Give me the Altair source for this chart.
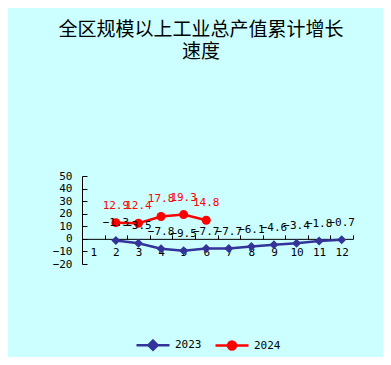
import altair as alt
import pandas as pd

title_lines = ["全区规模以上工业总产值累计增长", "速度"]
months = list(range(1, 13))
months_2023 = [2, 3, 4, 5, 6, 7, 8, 9, 10, 11, 12]
values_2023 = [-1.3, -3.5, -7.8, -9.5, -7.7, -7.7, -6.1, -4.6, -3.4, -1.8, -0.7]
months_2024 = [2, 3, 4, 5, 6]
values_2024 = [12.9, 12.4, 17.8, 19.3, 14.8]
series = ["2023", "2024"]
series_colors = ["#333399", "#FF0000"]
label_colors = ["#000000", "#FF0000"]
y_ticks = [50, 40, 30, 20, 10, 0, -10, -20]

df = pd.DataFrame({
    "month": months_2023 + months_2024,
    "value": values_2023 + values_2024,
    "year": [series[0]] * len(months_2023) + [series[1]] * len(months_2024),
})

W, H = 271, 88
y_min, y_max = -20, 50
zero_from_top = H * (y_max - 0) / (y_max - y_min)
zero_from_bottom = H - zero_from_top
FONT = "DejaVu Sans Mono"
FS = 11

xs = alt.Scale(domain=[0.5, 12.5], nice=False, zero=False)
ys = alt.Scale(domain=[y_min, y_max], nice=False, zero=False)

base = alt.Chart(df)

lines = base.mark_line(strokeWidth=2.5).encode(
    x=alt.X("month:Q", scale=xs, axis=alt.Axis(
        orient="bottom", offset=-zero_from_bottom, values=months, format="d",
        ticks=False, tickSize=0, labelPadding=8, domainColor="black", domainWidth=1,
        labelFont=FONT, labelFontSize=FS, labelColor="black", grid=False, title=None,
        labelFlush=False, labelOverlap=False)),
    y=alt.Y("value:Q", scale=ys, axis=alt.Axis(
        orient="left", values=y_ticks, ticks=False, tickSize=0, labelPadding=10,
        domainColor="black", domainWidth=1, labelFont=FONT, labelFontSize=FS,
        labelColor="black", grid=False, title=None, labelFlush=False, labelOverlap=False)),
    color=alt.Color("year:N", scale=alt.Scale(domain=series, range=series_colors), legend=None),
)

points = base.mark_point(filled=True, size=81, opacity=1).encode(
    x=alt.X("month:Q", scale=xs, axis=None),
    y=alt.Y("value:Q", scale=ys, axis=None),
    color=alt.Color("year:N", scale=alt.Scale(domain=series, range=series_colors), legend=None),
    shape=alt.Shape("year:N", scale=alt.Scale(domain=series, range=["diamond", "circle"]), legend=None),
)

tick_axes = base.mark_point(opacity=0).encode(
    x=alt.X("month:Q", scale=xs, axis=alt.Axis(
        orient="top", offset=-zero_from_top, values=[m + 0.5 for m in months],
        ticks=True, tickSize=4, tickColor="black", labels=False, domain=False,
        grid=False, title=None)),
    y=alt.Y("value:Q", scale=ys, axis=alt.Axis(
        orient="right", offset=-W, values=y_ticks, ticks=True, tickSize=5,
        tickColor="black", labels=False, domain=False, grid=False, title=None)),
)

labels = base.mark_text(dy=-17, font=FONT, fontSize=FS, align="center").encode(
    x=alt.X("month:Q", scale=xs, axis=None),
    y=alt.Y("value:Q", scale=ys, axis=None),
    text=alt.Text("value:Q", format=".1f"),
    color=alt.Color("year:N", scale=alt.Scale(domain=series, range=label_colors), legend=None),
)

diamond_path = "M-1,0L1,0M0,-0.28L0.28,0L0,0.28L-0.28,0Z"
circle_path = "M-1,0L1,0M0.24,0A0.24,0.24,0,1,1,-0.24,0A0.24,0.24,0,1,1,0.24,0Z"

leg = alt.Legend(
    orient="none", legendX=53, legendY=151, direction="horizontal",
    symbolSize=1089, symbolStrokeWidth=2.5, symbolOpacity=1,
    labelFont=FONT, labelFontSize=FS, labelColor="black", labelOffset=4,
    columnPadding=8, title=None, padding=0,
)

legend_layer = alt.Chart(df).transform_filter("false").mark_point(filled=True).encode(
    fill=alt.Fill("year:N", scale=alt.Scale(domain=series, range=series_colors), legend=leg),
    stroke=alt.Stroke("year:N", scale=alt.Scale(domain=series, range=series_colors), legend=leg),
    shape=alt.Shape("year:N", scale=alt.Scale(domain=series, range=[diamond_path, circle_path]), legend=leg),
)

chart = alt.layer(lines, points, tick_axes, labels, legend_layer).resolve_scale(
    color="independent", shape="independent", fill="independent", stroke="independent"
).resolve_axis(
    x="independent", y="independent"
).properties(
    width=W, height=H,
    autosize=alt.AutoSizeParams(type="none"),
    padding={"left": 74, "top": 168, "right": 30, "bottom": 93},
    title=alt.TitleParams(
        text=title_lines, font="Noto Sans CJK SC", fontSize=19, fontWeight="normal",
        anchor="middle", dx=-16.5, offset=108, lineHeight=22.5, color="black"),
).configure(
    background="#CCFFFF"
).configure_view(stroke=None)

chart.save("out.html", embed_options={"renderer": "svg", "actions": False})
